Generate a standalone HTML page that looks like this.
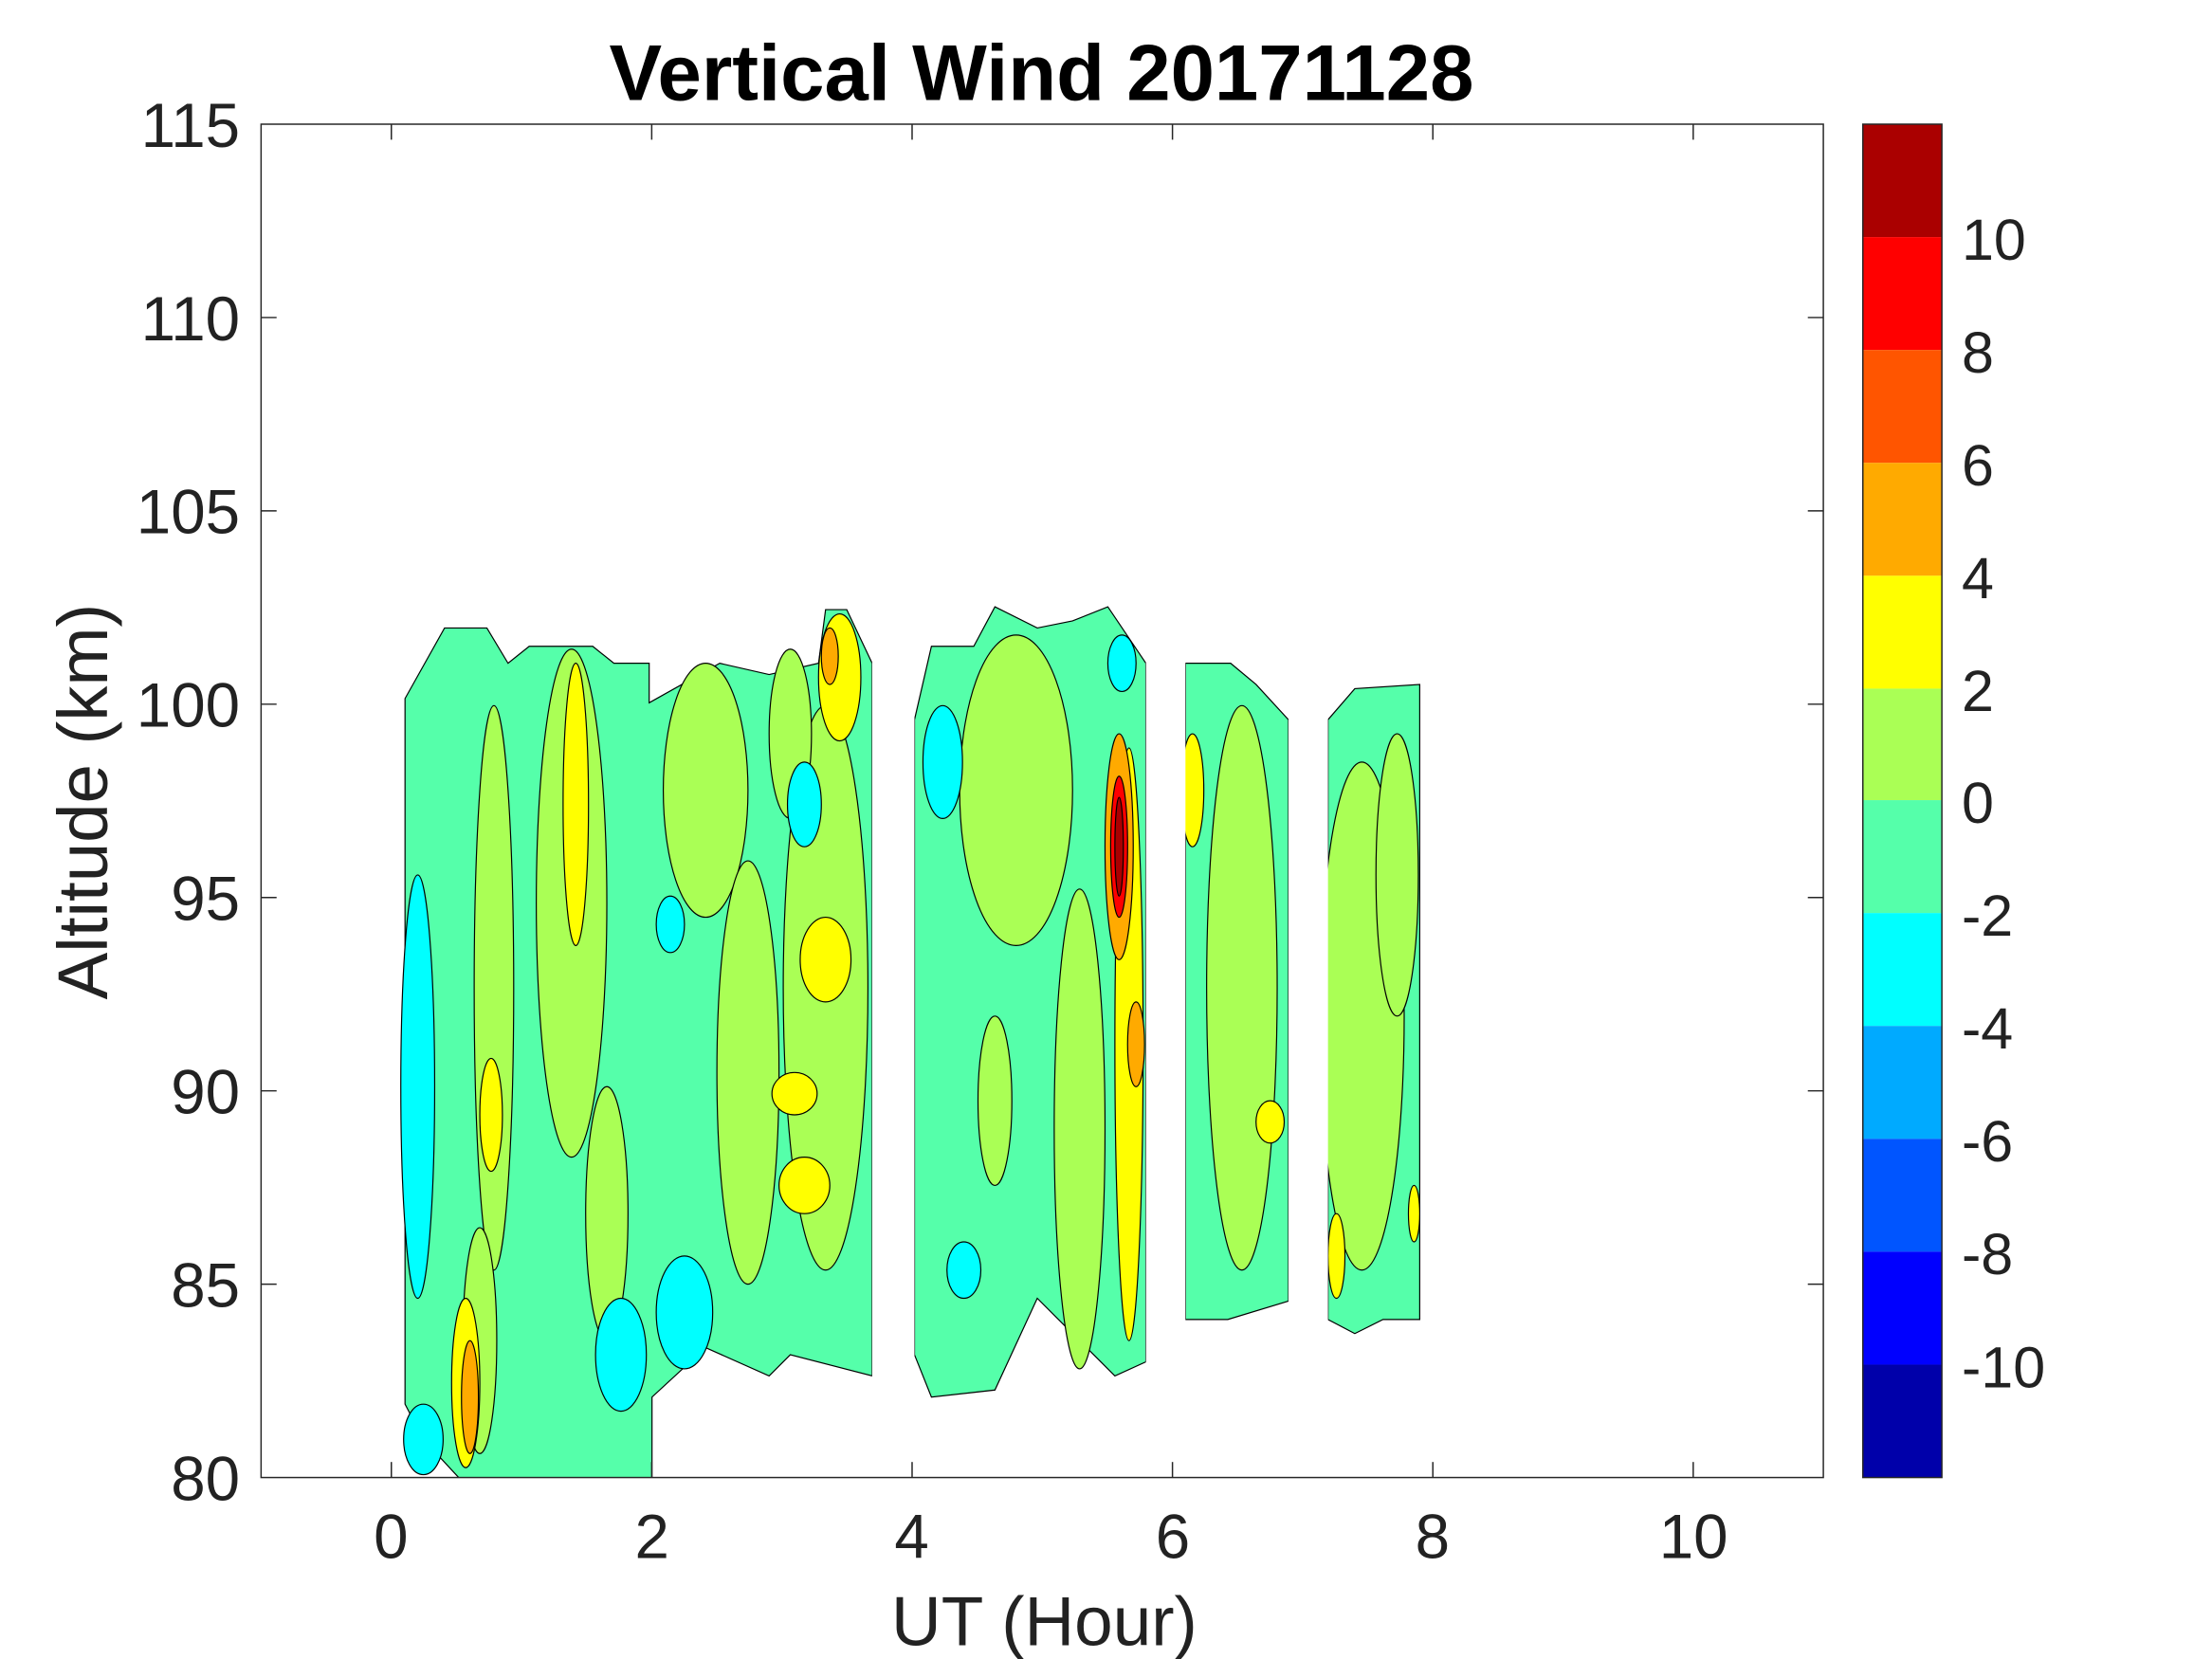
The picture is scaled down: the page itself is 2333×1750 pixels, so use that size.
<!DOCTYPE html>
<html><head><meta charset="utf-8"><style>
html,body{margin:0;padding:0;background:#fff;}
svg{display:block;}
text{font-family:"Liberation Sans",sans-serif;fill:#222;}
</style></head><body>
<svg width="2333" height="1750" viewBox="0 0 1567.4 1175.6" preserveAspectRatio="none" xmlns="http://www.w3.org/2000/svg">
<rect width="1567.4" height="1175.6" fill="#fff"/>
<defs><clipPath id="ax"><rect x="185" y="88" width="1107" height="959"/></clipPath></defs>
<g clip-path="url(#ax)" stroke="#000" stroke-width="0.8">
<polygon points="287,495 315,445 345,445 360,470 375,458 420,458 435,470 460,470 460,498 510,470 545,478 580,470 585,432 600,432 618,470 618,975 560,960 545,975 500,955 462,990 462,1047 325,1047 300,1020 287,995" fill="#55ffaa"/>
<polygon points="648,510 660,458 690,458 705,430 735,445 760,440 785,430 812,470 812,965 790,975 760,945 735,920 705,985 660,990 648,960" fill="#55ffaa"/>
<polygon points="840,470 872,470 890,485 913,510 913,922 870,935 840,935" fill="#55ffaa"/>
<polygon points="941,510 960,488 1006,485 1006,935 980,935 960,945 941,935" fill="#55ffaa"/>
<g fill="#aaff55">
<ellipse cx="350" cy="700" rx="14" ry="200"/>
<ellipse cx="405" cy="640" rx="25" ry="180"/>
<ellipse cx="430" cy="860" rx="15" ry="90"/>
<ellipse cx="500" cy="560" rx="30" ry="90"/>
<ellipse cx="530" cy="760" rx="22" ry="150"/>
<ellipse cx="585" cy="700" rx="30" ry="200"/>
<ellipse cx="560" cy="520" rx="15" ry="60"/>
<ellipse cx="720" cy="560" rx="40" ry="110"/>
<ellipse cx="765" cy="800" rx="18" ry="170"/>
<ellipse cx="705" cy="780" rx="12" ry="60"/>
<ellipse cx="880" cy="700" rx="25" ry="200"/>
<ellipse cx="965" cy="720" rx="30" ry="180"/>
<ellipse cx="990" cy="620" rx="15" ry="100"/>
<ellipse cx="340" cy="950" rx="12" ry="80"/>
</g>
<g fill="#00ffff">
<ellipse cx="296" cy="770" rx="12" ry="150"/>
<ellipse cx="440" cy="960" rx="18" ry="40"/>
<ellipse cx="485" cy="930" rx="20" ry="40"/>
<ellipse cx="570" cy="570" rx="12" ry="30"/>
<ellipse cx="668" cy="540" rx="14" ry="40"/>
<ellipse cx="683" cy="900" rx="12" ry="20"/>
<ellipse cx="795" cy="470" rx="10" ry="20"/>
<ellipse cx="475" cy="655" rx="10" ry="20"/>
<ellipse cx="300" cy="1020" rx="14" ry="25"/>
</g>
<g fill="#ffff00">
<ellipse cx="408" cy="570" rx="9" ry="100"/>
<ellipse cx="348" cy="790" rx="8" ry="40"/>
<ellipse cx="563" cy="775" rx="16" ry="15"/>
<ellipse cx="585" cy="680" rx="18" ry="30"/>
<ellipse cx="570" cy="840" rx="18" ry="20"/>
<ellipse cx="595" cy="480" rx="15" ry="45"/>
<ellipse cx="800" cy="740" rx="10" ry="210"/>
<ellipse cx="845" cy="560" rx="8" ry="40"/>
<ellipse cx="900" cy="795" rx="10" ry="15"/>
<ellipse cx="947" cy="890" rx="6" ry="30"/>
<ellipse cx="1002" cy="860" rx="4" ry="20"/>
<ellipse cx="330" cy="980" rx="10" ry="60"/>
</g>
<g fill="#ffaa00">
<ellipse cx="793" cy="600" rx="10" ry="80"/>
<ellipse cx="805" cy="740" rx="6" ry="30"/>
<ellipse cx="588" cy="465" rx="6" ry="20"/>
<ellipse cx="333" cy="990" rx="6" ry="40"/>
</g>
<g fill="#ff0000"><ellipse cx="793" cy="600" rx="6" ry="50"/></g>
<g fill="#aa0000"><ellipse cx="793" cy="600" rx="3" ry="35"/></g>
<rect x="618" y="80" width="30" height="1000" fill="#fff" stroke="none"/>
<rect x="812" y="80" width="28" height="1000" fill="#fff" stroke="none"/>
<rect x="913" y="80" width="28" height="1000" fill="#fff" stroke="none"/>
</g>
<rect x="185" y="88" width="1107" height="959" fill="none" stroke="#262626" stroke-width="1"/>
<g stroke="#262626" stroke-width="1">
<line x1="277.3" y1="1047" x2="277.3" y2="1036"/><line x1="461.8" y1="1047" x2="461.8" y2="1036"/><line x1="646.3" y1="1047" x2="646.3" y2="1036"/><line x1="830.8" y1="1047" x2="830.8" y2="1036"/><line x1="1015.3" y1="1047" x2="1015.3" y2="1036"/><line x1="1199.8" y1="1047" x2="1199.8" y2="1036"/>
<line x1="277.3" y1="88" x2="277.3" y2="99"/><line x1="461.8" y1="88" x2="461.8" y2="99"/><line x1="646.3" y1="88" x2="646.3" y2="99"/><line x1="830.8" y1="88" x2="830.8" y2="99"/><line x1="1015.3" y1="88" x2="1015.3" y2="99"/><line x1="1199.8" y1="88" x2="1199.8" y2="99"/>
<line x1="185" y1="225" x2="196" y2="225"/><line x1="185" y1="362" x2="196" y2="362"/><line x1="185" y1="499" x2="196" y2="499"/><line x1="185" y1="636" x2="196" y2="636"/><line x1="185" y1="773" x2="196" y2="773"/><line x1="185" y1="910" x2="196" y2="910"/>
<line x1="1292" y1="225" x2="1281" y2="225"/><line x1="1292" y1="362" x2="1281" y2="362"/><line x1="1292" y1="499" x2="1281" y2="499"/><line x1="1292" y1="636" x2="1281" y2="636"/><line x1="1292" y1="773" x2="1281" y2="773"/><line x1="1292" y1="910" x2="1281" y2="910"/>
</g>
<g font-size="44" text-anchor="end">
<text x="170" y="104">115</text><text x="170" y="241">110</text><text x="170" y="378">105</text><text x="170" y="515">100</text><text x="170" y="652">95</text><text x="170" y="789">90</text><text x="170" y="926">85</text><text x="170" y="1063">80</text>
</g>
<g font-size="44" text-anchor="middle">
<text x="277" y="1104">0</text><text x="462" y="1104">2</text><text x="646" y="1104">4</text><text x="831" y="1104">6</text><text x="1015" y="1104">8</text><text x="1200" y="1104">10</text>
<text x="740" y="1166" font-size="49">UT (Hour)</text>
<text x="738" y="71" font-size="56" font-weight="bold" style="fill:#000">Vertical Wind 20171128</text>
<text transform="translate(76,568) rotate(-90)" font-size="50">Altitude (km)</text>
</g>
<g>
<rect x="1320" y="88" width="56" height="80" fill="#aa0000"/>
<rect x="1320" y="168" width="56" height="80" fill="#ff0000"/>
<rect x="1320" y="248" width="56" height="80" fill="#ff5500"/>
<rect x="1320" y="328" width="56" height="80" fill="#ffaa00"/>
<rect x="1320" y="408" width="56" height="80" fill="#ffff00"/>
<rect x="1320" y="488" width="56" height="79" fill="#aaff55"/>
<rect x="1320" y="567" width="56" height="80" fill="#55ffaa"/>
<rect x="1320" y="647" width="56" height="80" fill="#00ffff"/>
<rect x="1320" y="727" width="56" height="80" fill="#00aaff"/>
<rect x="1320" y="807" width="56" height="80" fill="#0055ff"/>
<rect x="1320" y="887" width="56" height="80" fill="#0000ff"/>
<rect x="1320" y="967" width="56" height="80" fill="#0000aa"/>
<rect x="1320" y="88" width="56" height="959" fill="none" stroke="#262626" stroke-width="1"/>
</g>
<g font-size="41">
<text x="1390" y="184">10</text><text x="1390" y="264">8</text><text x="1390" y="344">6</text><text x="1390" y="424">4</text><text x="1390" y="504">2</text><text x="1390" y="583">0</text><text x="1390" y="663">-2</text><text x="1390" y="743">-4</text><text x="1390" y="823">-6</text><text x="1390" y="903">-8</text><text x="1390" y="983">-10</text>
</g>
</svg>
</body></html>
